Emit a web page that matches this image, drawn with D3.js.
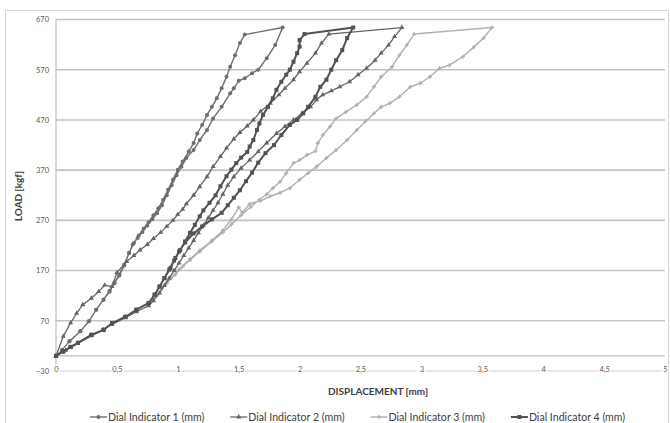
<!DOCTYPE html>
<meta charset="utf-8">
<title>Load - displacement</title>
<script src="https://d3js.org/d3.v7.min.js"></script>
<style>
  body { margin: 0; background: #fff; }
  svg { display: block; font-family: Lato, "Open Sans", sans-serif; }
</style>
<body>
<div id="my_dataviz"></div>
<script>

// values: displacement [mm] and load [kgf] for each dial
var dial1Disp = [0, 0.05, 0.11, 0.20, 0.27, 0.33, 0.39, 0.44, 0.48, 0.52, 0.56, 0.60, 0.64, 0.68, 0.72, 0.76, 0.80, 0.84, 0.88, 0.92, 0.96, 1.00, 1.04, 1.09, 1.13, 1.16, 1.20, 1.24, 1.28, 1.32, 1.36, 1.40, 1.43, 1.47, 1.51, 1.55,
  1.86,
  1.80, 1.73, 1.66, 1.61, 1.55, 1.50, 1.46, 1.43, 1.36, 1.29, 1.24, 1.18, 1.13, 1.07, 1.03, 0.99, 0.95, 0.91, 0.87, 0.83, 0.79, 0.75, 0.71, 0.67, 0.63, 0.60, 0.56, 0.52, 0.48, 0.44, 0.39, 0.33, 0.27, 0.20, 0.11, 0.05, 0];
var dial1Load = [0, 12, 29, 49, 69, 92, 112, 128, 145, 160, 180, 205, 225, 240, 254, 266, 280, 294, 311, 331, 351, 371, 387, 407, 424, 443, 460, 480, 496, 513, 533, 556, 576, 599, 623, 640,
  654,
  619, 593, 570, 563, 553, 548, 533, 523, 496, 473, 450, 430, 410, 394, 377, 360, 340, 320, 300, 284, 272, 260, 247, 235, 222, 205, 182, 162, 146, 130, 112, 92, 69, 49, 29, 12, 0];

var dial2Disp = [0, 0.06, 0.12, 0.17, 0.22, 0.29, 0.35, 0.40, 0.46, 0.50, 0.58, 0.64, 0.69, 0.75, 0.80, 0.86, 0.91, 0.96, 1.00, 1.04, 1.07, 1.13, 1.18, 1.24, 1.29, 1.35, 1.40, 1.46, 1.51, 1.57, 1.62, 1.68, 1.76, 1.83, 1.88, 1.95, 2.00, 2.06, 2.13, 2.18, 2.24,
  2.84,
  2.78, 2.73, 2.67, 2.62, 2.55, 2.48, 2.41, 2.33, 2.26, 2.19, 2.14, 2.09, 2.02, 1.95, 1.88, 1.81, 1.73, 1.66, 1.59, 1.52, 1.46, 1.41, 1.37, 1.33, 1.29, 1.25, 1.21, 1.17, 1.13, 1.09, 1.05, 1.01, 0.97, 0.93, 0.89, 0.85, 0.80, 0.76, 0.66, 0.57, 0.46, 0.39, 0.29, 0.18, 0.08, 0];
var dial2Load = [0, 39, 66, 85, 102, 115, 128, 141, 138, 166, 188, 200, 211, 222, 234, 246, 258, 270, 282, 292, 303, 320, 337, 357, 377, 397, 414, 432, 445, 458, 470, 487, 503, 520, 533, 550, 566, 583, 603, 623, 641,
  654,
  636, 619, 603, 589, 573, 560, 546, 536, 528, 520, 510, 496, 483, 470, 457, 443, 424, 407, 390, 374, 357, 340, 322, 305, 290, 275, 260, 245, 230, 215, 200, 185, 170, 155, 140, 125, 110, 100, 88, 76, 63, 52, 40, 25, 11, 0];

var dial3Disp = [0, 0.06, 0.12, 0.18, 0.29, 0.39, 0.46, 0.57, 0.66, 0.76, 0.83, 0.91, 0.98, 1.04, 1.10, 1.18, 1.28, 1.37, 1.44, 1.52, 1.60, 1.67, 1.73, 1.78, 1.84, 1.89, 1.95, 2.00, 2.06, 2.13, 2.15, 2.19, 2.25, 2.30, 2.38, 2.47, 2.55, 2.61, 2.67, 2.76, 2.82, 2.88, 2.94,
  3.58,
  3.51, 3.43, 3.34, 3.23, 3.15, 3.07, 2.99, 2.91, 2.82, 2.74, 2.67, 2.61, 2.54, 2.47, 2.39, 2.30, 2.22, 2.14, 2.07, 2.00, 1.92, 1.84, 1.76, 1.68, 1.59, 1.53, 1.50, 1.44, 1.37, 1.28, 1.18, 1.10, 1.01, 0.91, 0.83, 0.76, 0.66, 0.57, 0.46, 0.39, 0.29, 0.18, 0.12, 0.06, 0];
var dial3Load = [0, 9, 18, 26, 42, 52, 65, 78, 92, 105, 122, 145, 162, 178, 191, 208, 228, 246, 262, 280, 297, 311, 322, 334, 347, 364, 384, 390, 400, 408, 424, 440, 457, 473, 486, 500, 516, 536, 556, 576, 599, 619, 641,
  654,
  633, 615, 596, 579, 573, 556, 543, 536, 516, 503, 496, 483, 467, 450, 430, 410, 394, 377, 364, 351, 334, 325, 318, 309, 303, 285, 296, 272, 250, 230, 210, 193, 172, 147, 122, 105, 92, 78, 65, 52, 42, 26, 18, 9, 0];

var dial4Disp = [0, 0.06, 0.12, 0.18, 0.29, 0.39, 0.46, 0.57, 0.66, 0.76, 0.81, 0.85, 0.89, 0.94, 0.98, 1.02, 1.06, 1.10, 1.14, 1.18, 1.21, 1.26, 1.31, 1.35, 1.40, 1.44, 1.48, 1.52, 1.57, 1.59, 1.62, 1.65, 1.67, 1.70, 1.74, 1.78, 1.81, 1.85, 1.89, 1.92, 1.95, 1.98, 2.00, 2.00, 2.04,
  2.44,
  2.39, 2.35, 2.30, 2.26, 2.22, 2.17, 2.13, 2.07, 2.03, 1.98, 1.92, 1.85, 1.79, 1.72, 1.66, 1.61, 1.56, 1.51, 1.46, 1.41, 1.36, 1.28, 1.20, 1.13, 1.06, 1.01, 0.97, 0.93, 0.89, 0.85, 0.81, 0.76, 0.66, 0.57, 0.46, 0.39, 0.29, 0.18, 0.12, 0.06, 0];
var dial4Load = [0, 9, 18, 26, 42, 52, 65, 78, 92, 105, 122, 138, 155, 175, 195, 211, 228, 245, 261, 278, 290, 305, 320, 338, 358, 371, 384, 395, 406, 417, 430, 450, 463, 480, 496, 513, 530, 546, 560, 570, 586, 603, 616, 629, 641,
  654,
  633, 609, 589, 570, 550, 536, 516, 496, 483, 470, 460, 440, 420, 404, 385, 365, 348, 330, 315, 300, 285, 272, 258, 244, 226, 208, 190, 172, 155, 138, 122, 105, 92, 78, 65, 52, 42, 26, 18, 9, 0];

var seriesNames = ["Dial Indicator 1 (mm)", "Dial Indicator 2 (mm)", "Dial Indicator 3 (mm)", "Dial Indicator 4 (mm)"];
var yTicks = [-30, 70, 170, 270, 370, 470, 570, 670];
var xTicks = [0, 0.5, 1, 1.5, 2, 2.5, 3, 3.5, 4, 4.5, 5];

var series = [
  {name: seriesNames[0], x: dial1Disp, y: dial1Load, color: "#6e6e6e", width: 1.4, marker: "circle"},
  {name: seriesNames[1], x: dial2Disp, y: dial2Load, color: "#646464", width: 1.3, marker: "triangle"},
  {name: seriesNames[2], x: dial3Disp, y: dial3Load, color: "#b0b0b0", width: 1.4, marker: "dash"},
  {name: seriesNames[3], x: dial4Disp, y: dial4Load, color: "#525252", width: 2, marker: "square"}
];

var W = 670, H = 423;
var svg = d3.select("#my_dataviz").append("svg")
  .attr("width", W).attr("height", H);

// chart border
svg.append("rect")
  .attr("x", 5.5).attr("y", 10.5).attr("width", 663).attr("height", 430)
  .attr("fill", "none").attr("stroke", "#d4d4d4");

var x = d3.scaleLinear().domain([0, 5]).range([56, 665]);
var y = d3.scaleLinear().domain([-30, 670]).range([371, 19.5]);

// gridlines
svg.append("g").selectAll("line")
  .data(yTicks)
  .enter().append("line")
  .attr("x1", x(0)).attr("x2", x(5))
  .attr("y1", function(d) { return y(d); })
  .attr("y2", function(d) { return y(d); })
  .attr("stroke", function(d) { return d == -30 ? "#d0d0d0" : "#c4c4c4"; })
  .attr("stroke-width", function(d) { return d == -30 ? 1 : 1.6; });

// horizontal axis at 0 and vertical axis
svg.append("line")
  .attr("x1", x(0)).attr("x2", x(5)).attr("y1", y(0)).attr("y2", y(0))
  .attr("stroke", "#bdbdbd").attr("stroke-width", 1.3);
svg.append("line")
  .attr("x1", x(0)).attr("x2", x(0)).attr("y1", y(670)).attr("y2", y(-30))
  .attr("stroke", "#c4c4c4").attr("stroke-width", 1.3);

// y tick labels
var yAxis = svg.append("g")
  .attr("transform", "translate(" + x(0) + ",0)")
  .call(d3.axisLeft(y).tickValues(yTicks).tickSize(0).tickPadding(7));
yAxis.select(".domain").remove();
yAxis.selectAll("text").attr("font-size", 7.5).attr("fill", "#5a5a5a")
  .attr("font-family", "Lato, sans-serif");

// x tick labels, sitting on the bottom line
var xAxis = svg.append("g")
  .attr("transform", "translate(0," + (y(-30) - 4.5) + ")")
  .call(d3.axisBottom(x).tickValues(xTicks).tickSize(0).tickPadding(0)
    .tickFormat(function(d) { return String(d).replace(".", ","); }));
xAxis.select(".domain").remove();
xAxis.selectAll("text").attr("font-size", 7.5).attr("fill", "#5a5a5a")
  .attr("font-family", "Lato, sans-serif")
  .attr("stroke", "#fff").attr("stroke-width", 3).attr("paint-order", "stroke");

// axis titles
svg.append("text")
  .attr("x", 378).attr("y", 395)
  .attr("text-anchor", "middle")
  .attr("font-size", 10).attr("font-weight", "bold").attr("fill", "#404040")
  .text("DISPLACEMENT [mm]");
svg.append("text")
  .attr("transform", "translate(22," + 196 + ") rotate(-90)")
  .attr("text-anchor", "middle")
  .attr("font-size", 10).attr("font-weight", "bold").attr("fill", "#404040")
  .text("LOAD [kgf]");

function drawMarker(g, kind, color, cx, cy) {
  if (kind == "circle") {
    g.append("circle").attr("cx", cx).attr("cy", cy).attr("r", 2).attr("fill", color);
  } else if (kind == "triangle") {
    g.append("path").attr("d", d3.symbol().type(d3.symbolTriangle).size(11)())
      .attr("transform", "translate(" + cx + "," + cy + ")").attr("fill", color);
  } else if (kind == "dash") {
    g.append("path").attr("d", d3.symbol().type(d3.symbolCross).size(9)())
      .attr("transform", "translate(" + cx + "," + cy + ")").attr("fill", color);
  } else {
    g.append("rect").attr("x", cx - 2).attr("y", cy - 2).attr("width", 4).attr("height", 4)
      .attr("fill", color);
  }
}

var line = d3.line()
  .x(function(d) { return x(d[0]); })
  .y(function(d) { return y(d[1]); });

// draw the lighter series first so the dark ones stay on top
[2, 0, 1, 3].forEach(function(i) {
  var s = series[i];
  var pts = s.x.map(function(v, k) { return [v, s.y[k]]; });
  var g = svg.append("g");
  g.append("path")
    .datum(pts)
    .attr("d", line)
    .attr("fill", "none")
    .attr("stroke", s.color)
    .attr("stroke-width", s.width)
    .attr("stroke-linejoin", "round");
  pts.forEach(function(p) { drawMarker(g, s.marker, s.color, x(p[0]), y(p[1])); });
});

// legend
var legend = svg.append("g").attr("transform", "translate(90,417)");
series.forEach(function(s, i) {
  var item = legend.append("g").attr("transform", "translate(" + (i * 140.3) + ",0)");
  item.append("line").attr("x1", 0).attr("x2", 17).attr("y1", 0).attr("y2", 0)
    .attr("stroke", s.color).attr("stroke-width", s.width);
  drawMarker(item, s.marker, s.color, 8.5, 0);
  item.append("text").attr("x", 18).attr("y", 0).attr("dy", "0.35em")
    .attr("font-size", 10.6).attr("fill", "#404040")
    .text(s.name);
});

</script>
</body>
